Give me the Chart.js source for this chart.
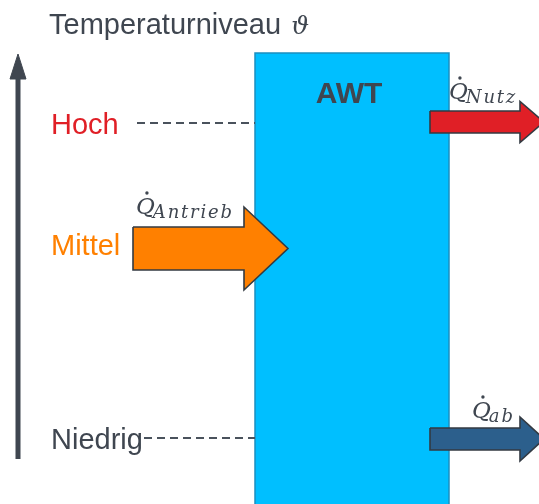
<!DOCTYPE html>
<html>
<head>
<meta charset="utf-8">
<script src="https://cdn.jsdelivr.net/npm/chart.js@4.4.0/dist/chart.umd.min.js"></script>
<style>
  html, body { margin: 0; padding: 0; background: #fff; }
  #wrap { width: 539px; height: 504px; }
</style>
</head>
<body>
<div id="wrap"><canvas id="awt" width="539" height="504"></canvas></div>
<script>
// Temperature levels (position on the hidden, top-down y axis)
const levels = ['Hoch', 'Mittel', 'Niedrig'];
const levelY = [123, 244, 438];

// Heat flows: subscript name, height, start / end on the x axis
const flowNames = ['Nutz', 'Antrieb', 'ab'];
const flowY = [122, 248.5, 439];
const flowStart = [430, 133, 430];
const flowEnd = [544, 288, 544];

const title = 'Temperaturniveau';
const boxLabel = 'AWT';

// styles
const grey = '#3f4650';
const levelColors = ['#e01f26', '#ff8000', '#3f4650'];
const flowColors = ['#e01f26', '#ff8000', '#2c5f8c'];
const flowSize = [{ shaft: 11, head: 20.5, len: 24 }, { shaft: 21.5, head: 41.5, len: 44 }, { shaft: 11, head: 22, len: 24 }];

// closed arrow outline pointing right
function arrowPoints(x0, x1, y, s) {
    const hb = x1 - s.len;
    return [
        { x: x0, y: y - s.shaft }, { x: hb, y: y - s.shaft }, { x: hb, y: y - s.head },
        { x: x1, y: y }, { x: hb, y: y + s.head }, { x: hb, y: y + s.shaft },
        { x: x0, y: y + s.shaft }, { x: x0, y: y - s.shaft }
    ];
}

const datasets = [];

flowNames.forEach((n, i) => {
    datasets.push({
        label: n,
        data: arrowPoints(flowStart[i], flowEnd[i], flowY[i], flowSize[i]),
        borderColor: '#333a42',
        backgroundColor: flowColors[i],
        borderWidth: 1.6,
        fill: 'shape'
    });
});

// axis arrow (shaft + head)
datasets.push({
    label: 'axisHead',
    data: [{ x: 10, y: 79 }, { x: 18, y: 54 }, { x: 26, y: 79 }, { x: 10, y: 79 }],
    borderColor: grey, backgroundColor: grey, borderWidth: 1, fill: 'shape'
});
datasets.push({
    label: 'axis',
    data: [{ x: 18, y: 459 }, { x: 18, y: 76 }],
    borderColor: grey, borderWidth: 5, borderCapStyle: 'butt'
});

// dashed level lines for Hoch and Niedrig
[[137, 0], [144, 2]].forEach(([x0, li]) => {
    datasets.push({
        label: 'dash' + li,
        data: [{ x: x0, y: levelY[li] }, { x: 255, y: levelY[li] }],
        borderColor: '#4a525c', borderWidth: 2, borderDash: [8, 5]
    });
});

// AWT box
datasets.push({
    label: boxLabel,
    data: [{ x: 255, y: 515 }, { x: 255, y: 53 }, { x: 449, y: 53 }, { x: 449, y: 515 }],
    borderColor: '#1b8fc0', backgroundColor: '#00bfff', borderWidth: 1.5, fill: 'shape'
});

const textPlugin = {
    id: 'texts',
    afterDatasetsDraw(chart) {
        const ctx = chart.ctx;
        const sx = chart.scales.x, sy = chart.scales.y;
        ctx.save();
        ctx.textBaseline = 'alphabetic';
        ctx.textAlign = 'left';

        ctx.fillStyle = grey;
        ctx.font = '29px "Liberation Sans", Arial, sans-serif';
        ctx.fillText(title, 49, 34);
        const tw = ctx.measureText(title + ' ').width;
        ctx.font = 'italic 25px "DejaVu Serif", serif';
        ctx.fillText('ϑ', 51 + tw, 34);

        ctx.font = 'bold 30px "Liberation Sans", Arial, sans-serif';
        ctx.textAlign = 'center';
        ctx.fillText(boxLabel, sx.getPixelForValue(349), sy.getPixelForValue(103));

        ctx.textAlign = 'left';
        ctx.font = '29px "Liberation Sans", Arial, sans-serif';
        levels.forEach((l, i) => {
            ctx.fillStyle = levelColors[i];
            ctx.fillText(l, 51, sy.getPixelForValue(levelY[i]) + 10.5);
        });

        // Q-dot labels
        const qPos = [[449, 99], [136, 214], [472, 418]];
        flowNames.forEach((n, i) => {
            const x = sx.getPixelForValue(qPos[i][0]);
            const y = sy.getPixelForValue(qPos[i][1]);
            ctx.fillStyle = grey;
            ctx.letterSpacing = '0px';
            ctx.font = 'italic 23px "DejaVu Serif", serif';
            ctx.fillText('Q', x, y);
            const qw = ctx.measureText('Q').width;
            ctx.beginPath();
            ctx.arc(x + qw * 0.58, y - 21, 1.7, 0, Math.PI * 2);
            ctx.fill();
            ctx.font = 'italic 18px "DejaVu Serif", serif';
            ctx.letterSpacing = '1.8px';
            ctx.fillText(n, x + qw - 2, y + 4);
        });
        ctx.restore();
    }
};

new Chart(document.getElementById('awt'), {
    type: 'scatter',
    data: { datasets: datasets },
    options: {
        responsive: false,
        animation: false,
        devicePixelRatio: 1,
        layout: { padding: 0 },
        elements: {
            point: { radius: 0, hoverRadius: 0 },
            line: { tension: 0, borderJoinStyle: 'miter' }
        },
        datasets: { scatter: { showLine: true, clip: 0 } },
        plugins: { legend: { display: false }, tooltip: { enabled: false }, title: { display: false } },
        scales: {
            x: { type: 'linear', min: 0, max: 539, display: false },
            y: { type: 'linear', min: 0, max: 504, reverse: true, display: false }
        }
    },
    plugins: [textPlugin]
});
</script>
</body>
</html>
